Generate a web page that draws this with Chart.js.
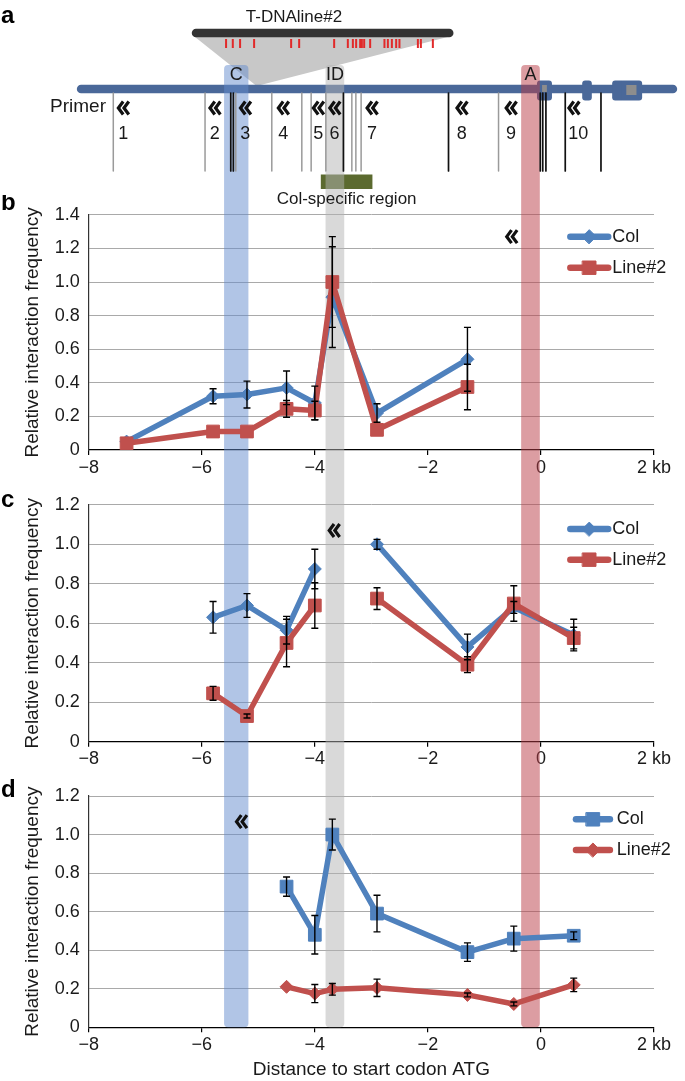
<!DOCTYPE html>
<html>
<head>
<meta charset="utf-8">
<script src="https://cdn.jsdelivr.net/npm/chart.js@4.4.1/dist/chart.umd.min.js"></script>
<style>
  html, body { margin: 0; padding: 0; background: #fff; }
  #wrap { position: relative; width: 685px; height: 1081px; overflow: hidden; }
  canvas { position: absolute; left: 0; }
</style>
</head>
<body>
<div id="wrap">
  <canvas id="panelA" width="685" height="212" style="top:0px"></canvas>
  <canvas id="panelB" width="685" height="290" style="top:195px"></canvas>
  <canvas id="panelC" width="685" height="290" style="top:485px"></canvas>
  <canvas id="panelD" width="685" height="306" style="top:775px"></canvas>
</div>
<script>
/* ==========================================================
   DATA (positions in kb relative to the ATG)
   ========================================================== */
const xTickLabels = ['\u22128', '\u22126', '\u22124', '\u22122', '0', '2 kb'];
const yTicks14 = ['0', '0.2', '0.4', '0.6', '0.8', '1.0', '1.2', '1.4'];
const yTicks12 = ['0', '0.2', '0.4', '0.6', '0.8', '1.0', '1.2'];

// primer (viewpoint fragment) positions used by the 3C curves
const primerX = [-7.33, -5.8, -5.2, -4.5, -4.0, -3.69, -2.9, -1.3, -0.48, 0.58];
const primerNames = ['1', '2', '3', '4', '5', '6', '7', '8', '9', '10'];
const primerMarkX = [-7.39, -5.77, -5.23, -4.56, -3.94, -3.65, -2.99, -1.40, -0.53, 0.58];
const primerLabelX = [-7.39, -5.77, -5.23, -4.56, -3.94, -3.65, -2.99, -1.40, -0.53, 0.66];

// panel b
const colB = [0.05, 0.32, 0.33, 0.37, 0.28, 0.91, 0.22, 0.54, null, null];
const colBErr = [0, 0.045, 0.08, 0.1, 0.1, 0.3, 0.055, 0.19, 0, 0];
const lineB = [0.04, 0.11, 0.11, 0.245, 0.235, 1.0, 0.12, 0.375, null, null];
const lineBErr = [0, 0, 0, 0.05, 0.055, 0.27, 0, 0.135, 0, 0];

// panel c
const colC = [null, 0.63, 0.69, 0.565, 0.875, null, 1.0, 0.48, 0.68, 0.54];
const colCErr = [0, 0.08, 0.06, 0.07, 0.1, 0, 0.025, 0.065, 0.03, 0.08];
const lineC = [null, 0.245, 0.13, 0.5, 0.69, null, 0.725, 0.39, 0.70, 0.525];
const lineCErr = [0, 0.035, 0.01, 0.12, 0.115, 0, 0.055, 0.04, 0.09, 0.055];

// panel d
const colD = [null, null, null, 0.73, 0.48, 1.0, 0.59, 0.39, 0.46, 0.475];
const colDErr = [0, 0, 0, 0.05, 0.1, 0.08, 0.095, 0.048, 0.065, 0.02];
const lineD = [null, null, null, 0.21, 0.175, 0.197, 0.205, 0.168, 0.121, 0.22];
const lineDErr = [0, 0, 0, 0, 0.047, 0.03, 0.045, 0.01, 0.01, 0.035];

// highlighted regions C / ID / A
const bandNames = ['C', 'ID', 'A'];
const bandStart = [-5.605, -3.81, -0.35];
const bandEnd = [-5.175, -3.48, -0.02];

// schematic (panel a)
const locusRange = [-8.21, 2.41];
const geneBoxStart = [-0.07, 0.73, 1.26, 1.42];
const geneBoxEnd = [0.195, 0.90, 1.49, 1.79];
const exonStart = [0.02, 1.51];
const exonEnd = [0.105, 1.69];
const siteGray = [-7.565, -5.942, -5.398, -4.761, -4.23, -4.065, -3.805, -3.345, -3.274, -3.181, -0.75];
const siteBlack = [-5.487, -5.441, -3.494, -1.635, -0.012, 0.032, 0.088, 0.43, 1.062];
const colRegion = [-3.894, -2.981];
const tdnaRange = [-6.177, -1.547];
const tdnaApex = -5.03;
const tdnaHits = [-5.570, -5.451, -5.322, -5.074, -4.419, -4.277, -3.658, -3.416, -3.327, -3.269,
                  -3.198, -3.168, -3.127, -3.021, -2.768, -2.708, -2.637, -2.561, -2.503, -2.177, -2.124, -1.912];

/* ==========================================================
   STYLE
   ========================================================== */
const FONT = '"Liberation Sans", Arial, Helvetica, sans-serif';
const TXT = '#1a1a1a';
const BLUE = '#4f81bd';
const RED = '#c0504d';
const GRID = '#a9a9a9';
const bandColors = ['rgba(100,140,205,0.5)', 'rgba(180,180,180,0.5)', 'rgba(185,60,70,0.5)'];
Chart.defaults.font.family = FONT;

function hbar(ctx, x1, x2, y, w, color) {
    ctx.strokeStyle = color;
    ctx.lineWidth = w;
    ctx.lineCap = 'round';
    ctx.beginPath();
    ctx.moveTo(x1 + w / 2, y);
    ctx.lineTo(x2 - w / 2, y);
    ctx.stroke();
}

function drawChevron(ctx, cx, cy) {
    ctx.save();
    ctx.strokeStyle = '#111';
    ctx.lineWidth = 3.2;
    ctx.lineJoin = 'miter';
    ctx.lineCap = 'butt';
    [-2.8, 2.8].forEach(dx => {
        ctx.beginPath();
        ctx.moveTo(cx + dx + 2.8, cy - 6.5);
        ctx.lineTo(cx + dx - 2, cy);
        ctx.lineTo(cx + dx + 2.8, cy + 6.5);
        ctx.stroke();
    });
    ctx.restore();
}

function drawBands(chart, top, bottom, radii) {
    const ctx = chart.ctx;
    const x = chart.scales.x;
    ctx.save();
    bandStart.forEach((s, i) => {
        const l = x.getPixelForValue(s);
        const r = x.getPixelForValue(bandEnd[i]);
        ctx.fillStyle = bandColors[i];
        ctx.beginPath();
        ctx.roundRect(l, top, r - l, bottom - top, radii);
        ctx.fill();
    });
    ctx.restore();
}

/* ==========================================================
   PANEL a : locus schematic on the same kb axis
   ========================================================== */
const schematic = {
    id: 'schematic',
    afterDraw(chart) {
        const ctx = chart.ctx;
        const px = v => chart.scales.x.getPixelForValue(v);
        ctx.save();

        // T-DNA insertion fan
        ctx.fillStyle = '#c8c8c8';
        ctx.beginPath();
        ctx.moveTo(px(tdnaRange[0]) + 2, 36);
        ctx.lineTo(px(tdnaRange[1]) - 2, 36);
        ctx.lineTo(px(tdnaApex), 86);
        ctx.closePath();
        ctx.fill();
        hbar(ctx, px(tdnaRange[0]), px(tdnaRange[1]), 33, 8.5, '#333');
        ctx.fillStyle = '#e12a2a';
        tdnaHits.forEach(v => ctx.fillRect(px(v) - 1, 39, 2, 9));

        // locus line + gene model
        hbar(ctx, px(locusRange[0]), px(locusRange[1]), 89, 8.5, '#4a6899');
        ctx.fillStyle = '#4a6899';
        geneBoxStart.forEach((s, i) => {
            ctx.beginPath();
            ctx.roundRect(px(s), 80.5, px(geneBoxEnd[i]) - px(s), 20, 3);
            ctx.fill();
        });
        ctx.fillStyle = '#8d8d8d';
        exonStart.forEach((s, i) => {
            ctx.fillRect(px(s), 85, px(exonEnd[i]) - px(s), i === 0 ? 7 : 10);
        });

        // Col-specific region
        ctx.fillStyle = '#5b6a2f';
        ctx.fillRect(px(colRegion[0]), 174.5, px(colRegion[1]) - px(colRegion[0]), 14.5);

        drawBands(chart, 65, chart.height, [4, 4, 0, 0]);

        // restriction sites
        ctx.lineWidth = 1.5;
        ctx.strokeStyle = '#9a9a9a';
        siteGray.forEach(v => {
            ctx.beginPath(); ctx.moveTo(px(v), 93); ctx.lineTo(px(v), 171); ctx.stroke();
        });
        ctx.lineWidth = 1.7;
        ctx.strokeStyle = '#111';
        siteBlack.forEach(v => {
            ctx.beginPath(); ctx.moveTo(px(v), 93); ctx.lineTo(px(v), 171); ctx.stroke();
        });

        // primers
        primerMarkX.forEach(v => drawChevron(ctx, px(v), 108));
        ctx.fillStyle = TXT;
        ctx.textBaseline = 'middle';
        ctx.textAlign = 'center';
        ctx.font = '18px ' + FONT;
        primerNames.forEach((n, i) => ctx.fillText(n, px(primerLabelX[i]), 134));
        ctx.textAlign = 'right';
        ctx.font = '19px ' + FONT;
        ctx.fillText('Primer', 106, 107);

        // labels
        ctx.textAlign = 'center';
        ctx.font = '18px ' + FONT;
        bandNames.forEach((n, i) => ctx.fillText(n, (px(bandStart[i]) + px(bandEnd[i])) / 2, 75.5));
        ctx.font = '17px ' + FONT;
        ctx.fillText('T-DNAline#2', 294, 17);
        ctx.fillText('Col-specific region', (px(colRegion[0]) + px(colRegion[1])) / 2, 199.5);

        ctx.font = 'bold 24px ' + FONT;
        ctx.fillStyle = '#000';
        ctx.textAlign = 'left';
        ctx.textBaseline = 'alphabetic';
        ctx.fillText('a', 1, 23);
        ctx.restore();
    }
};

new Chart(document.getElementById('panelA'), {
    type: 'scatter',
    data: { datasets: [] },
    options: {
        responsive: false,
        animation: false,
        devicePixelRatio: 1,
        layout: { padding: { left: 88.7, right: 31, top: 0, bottom: 0 } },
        plugins: { legend: { display: false }, tooltip: { enabled: false } },
        scales: {
            x: { type: 'linear', min: -8, max: 2, display: false },
            y: { min: 0, max: 1, display: false }
        }
    },
    plugins: [schematic]
});

/* ==========================================================
   PANELS b, c, d : interaction frequency curves
   ========================================================== */
function makePanel(p) {
    const pts = vals => primerX.map((x, i) => ({ x: x, y: vals[i] }));
    const series = [
        { label: 'Col', vals: p.col, err: p.colErr, color: BLUE, style: p.colStyle, r: p.colR, order: 1 },
        { label: 'Line#2', vals: p.line, err: p.lineErr, color: RED, style: p.lineStyle, r: p.lineR, order: 0 }
    ];

    const deco = {
        id: 'deco',
        beforeDatasetsDraw(chart) {
            drawBands(chart, p.bandTop, p.bandToArea ? chart.chartArea.bottom : chart.height,
                      p.bandToArea ? [0, 0, 4, 4] : 0);
        },
        afterDatasetsDraw(chart) {
            const ctx = chart.ctx;
            const x = chart.scales.x, y = chart.scales.y;
            ctx.save();

            // error bars
            ctx.strokeStyle = '#000';
            ctx.lineWidth = 1.4;
            series.forEach(s => {
                s.vals.forEach((v, i) => {
                    if (v === null || !s.err[i]) return;
                    const cx = x.getPixelForValue(primerX[i]);
                    const y1 = y.getPixelForValue(v + s.err[i]);
                    const y2 = y.getPixelForValue(v - s.err[i]);
                    ctx.beginPath();
                    ctx.moveTo(cx, y1); ctx.lineTo(cx, y2);
                    ctx.moveTo(cx - 3.5, y1); ctx.lineTo(cx + 3.5, y1);
                    ctx.moveTo(cx - 3.5, y2); ctx.lineTo(cx + 3.5, y2);
                    ctx.stroke();
                });
            });

            // viewpoint primer
            drawChevron(ctx, x.getPixelForValue(p.baitX), y.getPixelForValue(p.baitY));

            // legend
            series.forEach((s, k) => {
                const ly = y.getPixelForValue(p.legendY[k]);
                const l = x.getPixelForValue(p.legendX[0]);
                const r = x.getPixelForValue(p.legendX[1]);
                ctx.strokeStyle = s.color;
                ctx.fillStyle = s.color;
                ctx.lineWidth = 6.5;
                ctx.lineCap = 'round';
                ctx.beginPath(); ctx.moveTo(l, ly); ctx.lineTo(r, ly); ctx.stroke();
                ctx.lineWidth = 1;
                Chart.helpers.drawPoint(ctx, { pointStyle: s.style, rotation: 0, radius: s.r + 0.5, borderWidth: 1 }, (l + r) / 2, ly);
                ctx.fillStyle = TXT;
                ctx.font = '18px ' + FONT;
                ctx.textAlign = 'left';
                ctx.textBaseline = 'middle';
                ctx.fillText(s.label, x.getPixelForValue(p.legendX[2]), ly);
            });

            ctx.font = 'bold 24px ' + FONT;
            ctx.fillStyle = '#000';
            ctx.textAlign = 'left';
            ctx.textBaseline = 'alphabetic';
            ctx.fillText(p.letter, 1, p.letterY);
            ctx.restore();
        }
    };

    return new Chart(document.getElementById(p.id), {
        type: 'line',
        data: {
            datasets: series.map(s => ({
                label: s.label,
                data: pts(s.vals),
                borderColor: s.color,
                backgroundColor: s.color,
                pointBackgroundColor: s.color,
                pointBorderColor: s.color,
                pointStyle: s.style,
                pointRadius: s.r,
                pointBorderWidth: 1,
                borderWidth: 5.5,
                borderJoinStyle: 'round',
                borderCapStyle: 'round',
                tension: 0,
                spanGaps: false,
                fill: false,
                order: s.order
            }))
        },
        options: {
            responsive: false,
            animation: false,
            devicePixelRatio: 1,
            layout: { padding: { left: 0, right: 31, top: p.padTop, bottom: p.padBottom } },
            plugins: { legend: { display: false }, tooltip: { enabled: false } },
            scales: {
                x: {
                    type: 'linear', min: -8, max: 2,
                    ticks: {
                        stepSize: 2, padding: 2, color: TXT, maxRotation: 0, autoSkip: false,
                        font: { family: FONT, size: 18 },
                        callback: (v, i) => xTickLabels[i]
                    },
                    grid: { drawOnChartArea: false, drawTicks: true, tickLength: 5, color: '#000', lineWidth: 1.2 },
                    border: { color: '#000', width: 1.2 },
                    title: p.xTitle
                        ? { display: true, text: p.xTitle, color: TXT, font: { family: FONT, size: 19 }, padding: { top: 0, bottom: 0 } }
                        : { display: false },
                    afterFit: s => { s.height = p.xHeight; }
                },
                y: {
                    min: 0, max: p.yMax,
                    ticks: {
                        stepSize: 0.2, padding: 9, color: TXT,
                        font: { family: FONT, size: 18 },
                        callback: (v, i) => p.yLabels[i]
                    },
                    grid: {
                        color: c => (c.tick && c.tick.value === 0) ? 'rgba(0,0,0,0)' : GRID,
                        lineWidth: 1, drawTicks: false
                    },
                    border: { color: '#333', width: 1.2 },
                    title: {
                        display: true, text: 'Relative interaction frequency', color: TXT,
                        font: { family: FONT, size: 19 }, padding: { top: 21.6, bottom: 0 }
                    },
                    afterFit: s => { s.width = 88.7; }
                }
            }
        },
        plugins: [deco]
    });
}

makePanel({
    id: 'panelB', letter: 'b', letterY: 15,
    col: colB, colErr: colBErr, line: lineB, lineErr: lineBErr,
    colStyle: 'rectRot', colR: 6.5, lineStyle: 'rect', lineR: 9,
    yMax: 1.4, yLabels: yTicks14,
    padTop: 15, padBottom: 5, xHeight: 30,
    bandTop: 17, bandToArea: false,
    baitX: -0.52, baitY: 1.27,
    legendY: [1.27, 1.085], legendX: [0.52, 1.19, 1.26]
});

makePanel({
    id: 'panelC', letter: 'c', letterY: 22,
    col: colC, colErr: colCErr, line: lineC, lineErr: lineCErr,
    colStyle: 'rectRot', colR: 6.5, lineStyle: 'rect', lineR: 9,
    yMax: 1.2, yLabels: yTicks12,
    padTop: 19, padBottom: 3.3, xHeight: 30,
    bandTop: 0, bandToArea: false,
    baitX: -3.66, baitY: 1.07,
    legendY: [1.077, 0.922], legendX: [0.52, 1.19, 1.26]
});

makePanel({
    id: 'panelD', letter: 'd', letterY: 22,
    col: colD, colErr: colDErr, line: lineD, lineErr: lineDErr,
    colStyle: 'rect', colR: 9, lineStyle: 'rectRot', lineR: 6.5,
    yMax: 1.2, yLabels: yTicks12,
    padTop: 21, padBottom: 0, xHeight: 53.7,
    xTitle: 'Distance to start codon ATG',
    bandTop: 0, bandToArea: true,
    baitX: -5.3, baitY: 1.067,
    legendY: [1.079, 0.92], legendX: [0.62, 1.22, 1.34]
});
</script>
</body>
</html>
